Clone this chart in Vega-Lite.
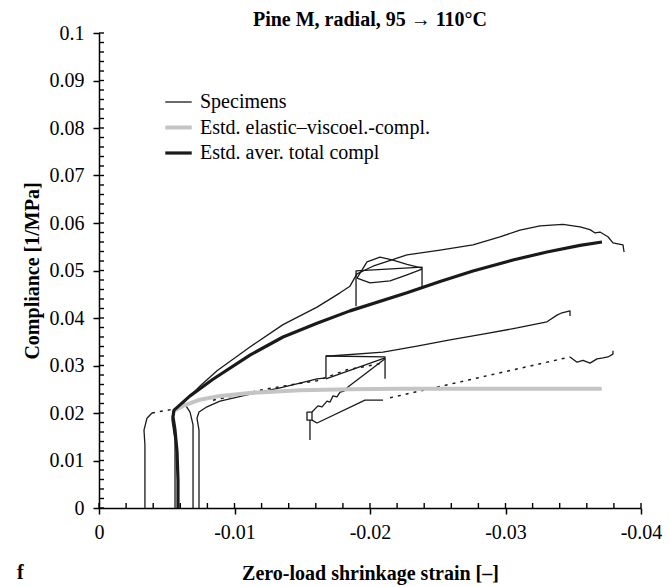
{
  "$schema": "https://vega.github.io/schema/vega-lite/v6.json",
  "width": 542,
  "height": 475,
  "autosize": {"type": "none"},
  "padding": {"left": 99, "top": 33, "right": 29, "bottom": 79},
  "background": "white",
  "title": {"text": "Pine M, radial, 95 → 110°C", "font": "Liberation Serif", "fontSize": 20, "fontWeight": "bold", "color": "black", "anchor": "middle", "frame": "group", "offset": -7},
  "config": {
    "font": "Liberation Serif",
    "view": {"stroke": null},
    "axis": {"grid": false}
  },
  "datasets": {
    "spec": [
      {"g":"S1","s":"Specimens","i":0,"x":-0.00561,"y":0},
      {"g":"S1","s":"Specimens","i":1,"x":-0.00561,"y":0.0143},
      {"g":"S1","s":"Specimens","i":2,"x":-0.00539,"y":0.0185},
      {"g":"S1","s":"Specimens","i":3,"x":-0.00546,"y":0.0204},
      {"g":"S1","s":"Specimens","i":4,"x":-0.0062,"y":0.0221},
      {"g":"S1","s":"Specimens","i":5,"x":-0.0075,"y":0.0258},
      {"g":"S1","s":"Specimens","i":6,"x":-0.00871,"y":0.0289},
      {"g":"S1","s":"Specimens","i":7,"x":-0.01114,"y":0.0339},
      {"g":"S1","s":"Specimens","i":8,"x":-0.01358,"y":0.0386},
      {"g":"S1","s":"Specimens","i":9,"x":-0.01609,"y":0.0423},
      {"g":"S1","s":"Specimens","i":10,"x":-0.01779,"y":0.0453},
      {"g":"S1","s":"Specimens","i":11,"x":-0.01852,"y":0.0467},
      {"g":"S1","s":"Specimens","i":12,"x":-0.01904,"y":0.0493},
      {"g":"S1","s":"Specimens","i":13,"x":-0.02022,"y":0.0509},
      {"g":"S1","s":"Specimens","i":14,"x":-0.02273,"y":0.0533},
      {"g":"S1","s":"Specimens","i":15,"x":-0.02517,"y":0.0543},
      {"g":"S1","s":"Specimens","i":16,"x":-0.0276,"y":0.0554},
      {"g":"S1","s":"Specimens","i":17,"x":-0.02959,"y":0.0571},
      {"g":"S1","s":"Specimens","i":18,"x":-0.03107,"y":0.0585},
      {"g":"S1","s":"Specimens","i":19,"x":-0.03255,"y":0.0594},
      {"g":"S1","s":"Specimens","i":20,"x":-0.03424,"y":0.0597},
      {"g":"S1","s":"Specimens","i":21,"x":-0.0355,"y":0.0592},
      {"g":"S1","s":"Specimens","i":22,"x":-0.03624,"y":0.0586},
      {"g":"S1","s":"Specimens","i":23,"x":-0.03661,"y":0.0579},
      {"g":"S1","s":"Specimens","i":24,"x":-0.03697,"y":0.0581},
      {"g":"S1","s":"Specimens","i":25,"x":-0.03756,"y":0.0571},
      {"g":"S1","s":"Specimens","i":26,"x":-0.03793,"y":0.0558},
      {"g":"S1","s":"Specimens","i":27,"x":-0.03867,"y":0.0554},
      {"g":"S1","s":"Specimens","i":28,"x":-0.03875,"y":0.0539},

      {"g":"S4","s":"Specimens","i":0,"x":-0.00694,"y":0},
      {"g":"S4","s":"Specimens","i":1,"x":-0.00694,"y":0.0175},
      {"g":"S4","s":"Specimens","i":2,"x":-0.00672,"y":0.0202},
      {"g":"S4","s":"Specimens","i":3,"x":-0.00642,"y":0.0215},
      {"g":"S4","s":"Specimens","i":4,"x":-0.0062,"y":0.0221},

      {"g":"S2","s":"Specimens","i":0,"x":-0.00738,"y":0},
      {"g":"S2","s":"Specimens","i":1,"x":-0.00738,"y":0.0164},
      {"g":"S2","s":"Specimens","i":2,"x":-0.00723,"y":0.0189},
      {"g":"S2","s":"Specimens","i":3,"x":-0.00738,"y":0.0202},
      {"g":"S2","s":"Specimens","i":4,"x":-0.00797,"y":0.0213},
      {"g":"S2","s":"Specimens","i":5,"x":-0.00893,"y":0.0225},
      {"g":"S2","s":"Specimens","i":6,"x":-0.01092,"y":0.0238},
      {"g":"S2","s":"Specimens","i":7,"x":-0.01336,"y":0.0253},
      {"g":"S2","s":"Specimens","i":8,"x":-0.01483,"y":0.0263},
      {"g":"S2","s":"Specimens","i":9,"x":-0.01609,"y":0.0272},
      {"g":"S2","s":"Specimens","i":10,"x":-0.01675,"y":0.0274},
      {"g":"S2","s":"Specimens","i":11,"x":-0.01675,"y":0.032},
      {"g":"S2","s":"Specimens","i":12,"x":-0.01705,"y":0.032},
      {"g":"S2","s":"Specimens","i":13,"x":-0.02096,"y":0.0328},
      {"g":"S2","s":"Specimens","i":14,"x":-0.02347,"y":0.0341},
      {"g":"S2","s":"Specimens","i":15,"x":-0.0259,"y":0.0354},
      {"g":"S2","s":"Specimens","i":16,"x":-0.02834,"y":0.0366},
      {"g":"S2","s":"Specimens","i":17,"x":-0.03085,"y":0.0379},
      {"g":"S2","s":"Specimens","i":18,"x":-0.03306,"y":0.0392},
      {"g":"S2","s":"Specimens","i":19,"x":-0.0338,"y":0.0406},
      {"g":"S2","s":"Specimens","i":20,"x":-0.03417,"y":0.0411},
      {"g":"S2","s":"Specimens","i":21,"x":-0.03476,"y":0.0415},
      {"g":"S2","s":"Specimens","i":22,"x":-0.03476,"y":0.0404},

      {"g":"B1","s":"Specimens","i":0,"x":-0.01897,"y":0.0425},
      {"g":"B1","s":"Specimens","i":1,"x":-0.01897,"y":0.0499},
      {"g":"B1","s":"Specimens","i":2,"x":-0.02384,"y":0.0507},
      {"g":"B1","s":"Specimens","i":3,"x":-0.02384,"y":0.0465},

      {"g":"DM","s":"Specimens","i":0,"x":-0.01904,"y":0.0484},
      {"g":"DM","s":"Specimens","i":1,"x":-0.01978,"y":0.0518},
      {"g":"DM","s":"Specimens","i":2,"x":-0.02074,"y":0.0528},
      {"g":"DM","s":"Specimens","i":3,"x":-0.0217,"y":0.0522},
      {"g":"DM","s":"Specimens","i":4,"x":-0.02273,"y":0.0513},
      {"g":"DM","s":"Specimens","i":5,"x":-0.02384,"y":0.0505},

      {"g":"AR","s":"Specimens","i":0,"x":-0.01904,"y":0.0484},
      {"g":"AR","s":"Specimens","i":1,"x":-0.02,"y":0.0474},
      {"g":"AR","s":"Specimens","i":2,"x":-0.02148,"y":0.0478},
      {"g":"AR","s":"Specimens","i":3,"x":-0.02273,"y":0.0491},
      {"g":"AR","s":"Specimens","i":4,"x":-0.02384,"y":0.0503},

      {"g":"B2","s":"Specimens","i":0,"x":-0.01675,"y":0.032},
      {"g":"B2","s":"Specimens","i":1,"x":-0.02111,"y":0.0318},
      {"g":"B2","s":"Specimens","i":2,"x":-0.02111,"y":0.0272},

      {"g":"DG","s":"Specimens","i":0,"x":-0.01675,"y":0.0272},
      {"g":"DG","s":"Specimens","i":1,"x":-0.02111,"y":0.0316},

      {"g":"A","s":"Specimens","i":0,"x":-0.00339,"y":0},
      {"g":"A","s":"Specimens","i":1,"x":-0.00339,"y":0.0133},
      {"g":"A","s":"Specimens","i":2,"x":-0.00332,"y":0.0164},
      {"g":"A","s":"Specimens","i":3,"x":-0.00354,"y":0.0189},
      {"g":"A","s":"Specimens","i":4,"x":-0.00391,"y":0.02},

      {"g":"S3V","s":"Specimens","i":0,"x":-0.01557,"y":0.0143},
      {"g":"S3V","s":"Specimens","i":1,"x":-0.01557,"y":0.0185},
      {"g":"S3V","s":"Specimens","i":2,"x":-0.01535,"y":0.0185},
      {"g":"S3V","s":"Specimens","i":3,"x":-0.01535,"y":0.0202},
      {"g":"S3V","s":"Specimens","i":4,"x":-0.01572,"y":0.0202},
      {"g":"S3V","s":"Specimens","i":5,"x":-0.01572,"y":0.0185},
      {"g":"S3V","s":"Specimens","i":6,"x":-0.01557,"y":0.0185},

      {"g":"S3Z","s":"Specimens","i":0,"x":-0.01572,"y":0.0202},
      {"g":"S3Z","s":"Specimens","i":1,"x":-0.01616,"y":0.0215},
      {"g":"S3Z","s":"Specimens","i":2,"x":-0.01646,"y":0.0213},
      {"g":"S3Z","s":"Specimens","i":3,"x":-0.01683,"y":0.0225},
      {"g":"S3Z","s":"Specimens","i":4,"x":-0.01705,"y":0.0223},
      {"g":"S3Z","s":"Specimens","i":5,"x":-0.01727,"y":0.0236},
      {"g":"S3Z","s":"Specimens","i":6,"x":-0.01756,"y":0.0234},
      {"g":"S3Z","s":"Specimens","i":7,"x":-0.01779,"y":0.0244},
      {"g":"S3Z","s":"Specimens","i":8,"x":-0.01808,"y":0.0246},
      {"g":"S3Z","s":"Specimens","i":9,"x":-0.0183,"y":0.0253},
      {"g":"S3Z","s":"Specimens","i":10,"x":-0.02111,"y":0.0314},

      {"g":"S3B","s":"Specimens","i":0,"x":-0.01572,"y":0.0185},
      {"g":"S3B","s":"Specimens","i":1,"x":-0.01609,"y":0.0179},
      {"g":"S3B","s":"Specimens","i":2,"x":-0.01963,"y":0.0227},
      {"g":"S3B","s":"Specimens","i":3,"x":-0.02096,"y":0.0227},

      {"g":"S3J","s":"Specimens","i":0,"x":-0.03476,"y":0.0318},
      {"g":"S3J","s":"Specimens","i":1,"x":-0.03528,"y":0.0307},
      {"g":"S3J","s":"Specimens","i":2,"x":-0.03572,"y":0.0311},
      {"g":"S3J","s":"Specimens","i":3,"x":-0.03624,"y":0.0305},
      {"g":"S3J","s":"Specimens","i":4,"x":-0.03675,"y":0.0314},
      {"g":"S3J","s":"Specimens","i":5,"x":-0.0372,"y":0.0316},
      {"g":"S3J","s":"Specimens","i":6,"x":-0.03756,"y":0.0318},
      {"g":"S3J","s":"Specimens","i":7,"x":-0.03793,"y":0.0324},
      {"g":"S3J","s":"Specimens","i":8,"x":-0.03793,"y":0.0331}
    ],
    "dotted": [
      {"g":"D1","i":0,"x":-0.00391,"y":0.02},
      {"g":"D1","i":1,"x":-0.00546,"y":0.0208},
      {"g":"D2","i":0,"x":-0.00841,"y":0.0227},
      {"g":"D2","i":1,"x":-0.0124,"y":0.0251},
      {"g":"D2","i":2,"x":-0.01609,"y":0.0268},
      {"g":"D2","i":3,"x":-0.0183,"y":0.0291},
      {"g":"D2","i":4,"x":-0.02096,"y":0.0305},
      {"g":"D3","i":0,"x":-0.02148,"y":0.0232},
      {"g":"D3","i":1,"x":-0.03476,"y":0.0318}
    ],
    "gray": [
      {"s":"Estd. elastic–viscoel.-compl.","i":0,"x":-0.0056,"y":0.0206},
      {"s":"Estd. elastic–viscoel.-compl.","i":1,"x":-0.0062,"y":0.0215},
      {"s":"Estd. elastic–viscoel.-compl.","i":2,"x":-0.00745,"y":0.0228},
      {"s":"Estd. elastic–viscoel.-compl.","i":3,"x":-0.00893,"y":0.0236},
      {"s":"Estd. elastic–viscoel.-compl.","i":4,"x":-0.01114,"y":0.0242},
      {"s":"Estd. elastic–viscoel.-compl.","i":5,"x":-0.01483,"y":0.0248},
      {"s":"Estd. elastic–viscoel.-compl.","i":6,"x":-0.01852,"y":0.025},
      {"s":"Estd. elastic–viscoel.-compl.","i":7,"x":-0.0222,"y":0.0251},
      {"s":"Estd. elastic–viscoel.-compl.","i":8,"x":-0.0371,"y":0.0251}
    ],
    "thick": [
      {"s":"Estd. aver. total compl","i":0,"x":-0.00583,"y":0},
      {"s":"Estd. aver. total compl","i":1,"x":-0.00583,"y":0.0059},
      {"s":"Estd. aver. total compl","i":2,"x":-0.00576,"y":0.0118},
      {"s":"Estd. aver. total compl","i":3,"x":-0.00561,"y":0.0164},
      {"s":"Estd. aver. total compl","i":4,"x":-0.00546,"y":0.0192},
      {"s":"Estd. aver. total compl","i":5,"x":-0.00554,"y":0.0206},
      {"s":"Estd. aver. total compl","i":6,"x":-0.00672,"y":0.0236},
      {"s":"Estd. aver. total compl","i":7,"x":-0.00841,"y":0.0271},
      {"s":"Estd. aver. total compl","i":8,"x":-0.01114,"y":0.0322},
      {"s":"Estd. aver. total compl","i":9,"x":-0.01358,"y":0.036},
      {"s":"Estd. aver. total compl","i":10,"x":-0.01609,"y":0.0389},
      {"s":"Estd. aver. total compl","i":11,"x":-0.01852,"y":0.0415},
      {"s":"Estd. aver. total compl","i":12,"x":-0.02273,"y":0.0453},
      {"s":"Estd. aver. total compl","i":13,"x":-0.02517,"y":0.0477},
      {"s":"Estd. aver. total compl","i":14,"x":-0.0276,"y":0.0499},
      {"s":"Estd. aver. total compl","i":15,"x":-0.03055,"y":0.0522},
      {"s":"Estd. aver. total compl","i":16,"x":-0.03306,"y":0.0539},
      {"s":"Estd. aver. total compl","i":17,"x":-0.0355,"y":0.0553},
      {"s":"Estd. aver. total compl","i":18,"x":-0.03712,"y":0.056}
    ],
    "xticks": [
      {"v":0},{"v":-0.002},{"v":-0.004},{"v":-0.006},{"v":-0.008},{"v":-0.01},{"v":-0.012},{"v":-0.014},{"v":-0.016},{"v":-0.018},
      {"v":-0.02},{"v":-0.022},{"v":-0.024},{"v":-0.026},{"v":-0.028},{"v":-0.03},{"v":-0.032},{"v":-0.034},{"v":-0.036},{"v":-0.038},{"v":-0.04}
    ],
    "yticks": [
      {"v":0},{"v":0.002},{"v":0.004},{"v":0.006},{"v":0.008},{"v":0.01},{"v":0.012},{"v":0.014},{"v":0.016},{"v":0.018},
      {"v":0.02},{"v":0.022},{"v":0.024},{"v":0.026},{"v":0.028},{"v":0.03},{"v":0.032},{"v":0.034},{"v":0.036},{"v":0.038},
      {"v":0.04},{"v":0.042},{"v":0.044},{"v":0.046},{"v":0.048},{"v":0.05},{"v":0.052},{"v":0.054},{"v":0.056},{"v":0.058},
      {"v":0.06},{"v":0.062},{"v":0.064},{"v":0.066},{"v":0.068},{"v":0.07},{"v":0.072},{"v":0.074},{"v":0.076},{"v":0.078},
      {"v":0.08},{"v":0.082},{"v":0.084},{"v":0.086},{"v":0.088},{"v":0.09},{"v":0.092},{"v":0.094},{"v":0.096},{"v":0.098},{"v":0.1}
    ]
  },
  "layer": [
    {
      "data": {"name": "spec"},
      "mark": {"type": "line", "strokeCap": "butt", "strokeJoin": "round"},
      "encoding": {
        "x": {"field": "x", "type": "quantitative",
          "scale": {"domain": [-0.04, 0], "reverse": true, "nice": false, "zero": false},
          "axis": {"values": [0, -0.01, -0.02, -0.03, -0.04], "labelExpr": "datum.value == 0 ? '0' : '-' + format(-datum.value, '~g')",
            "title": "Zero-load shrinkage strain [–]", "tickSize": 6, "labelPadding": 8, "titlePadding": 21,
            "labelFontSize": 20, "titleFontSize": 20, "titleFontWeight": "bold", "labelFont": "Liberation Serif", "titleFont": "Liberation Serif",
            "domainColor": "black", "domainWidth": 1.5, "tickColor": "black", "tickWidth": 1.5, "labelColor": "black", "titleColor": "black", "labelFlush": false}},
        "y": {"field": "y", "type": "quantitative",
          "scale": {"domain": [0, 0.1], "nice": false},
          "axis": {"values": [0, 0.01, 0.02, 0.03, 0.04, 0.05, 0.06, 0.07, 0.08, 0.09, 0.1], "format": "~g",
            "title": "Compliance [1/MPa]", "tickSize": 6, "labelPadding": 9, "titlePadding": 7,
            "labelFontSize": 20, "titleFontSize": 20, "titleFontWeight": "bold", "labelFont": "Liberation Serif", "titleFont": "Liberation Serif",
            "domainColor": "black", "domainWidth": 1.5, "tickColor": "black", "tickWidth": 1.5, "labelColor": "black", "titleColor": "black", "labelFlush": false}},
        "detail": {"field": "g"},
        "order": {"field": "i", "type": "quantitative"},
        "color": {"field": "s", "type": "nominal",
          "scale": {"domain": ["Specimens", "Estd. elastic–viscoel.-compl.", "Estd. aver. total compl"], "range": ["#1a1a1a", "#c4c4c4", "#1a1a1a"]},
          "legend": {"orient": "none", "legendX": 64, "legendY": 55, "title": null, "symbolSize": 700, "symbolType": "stroke", "symbolDash": [],
            "labelFontSize": 20, "labelFont": "Liberation Serif", "labelColor": "black", "labelLimit": 500, "rowPadding": 0, "labelOffset": 6}},
        "strokeWidth": {"field": "s", "type": "nominal",
          "scale": {"type": "ordinal", "domain": ["Specimens", "Estd. elastic–viscoel.-compl.", "Estd. aver. total compl"], "range": [1.3, 4, 3.2]},
          "legend": {"orient": "none", "legendX": 64, "legendY": 55, "title": null, "symbolSize": 700, "symbolType": "stroke", "symbolDash": [],
            "labelFontSize": 20, "labelFont": "Liberation Serif", "labelColor": "black", "labelLimit": 500, "rowPadding": 0, "labelOffset": 6}}
      }
    },
    {
      "data": {"name": "dotted"},
      "mark": {"type": "line", "color": "#1a1a1a", "strokeWidth": 1.5, "strokeDash": [3, 5]},
      "encoding": {
        "x": {"field": "x", "type": "quantitative", "scale": {"domain": [-0.04, 0], "reverse": true, "nice": false, "zero": false}},
        "y": {"field": "y", "type": "quantitative", "scale": {"domain": [0, 0.1], "nice": false}},
        "detail": {"field": "g"},
        "order": {"field": "i", "type": "quantitative"}
      }
    },
    {
      "data": {"name": "gray"},
      "mark": {"type": "line", "strokeCap": "butt"},
      "encoding": {
        "x": {"field": "x", "type": "quantitative", "scale": {"domain": [-0.04, 0], "reverse": true, "nice": false, "zero": false}},
        "y": {"field": "y", "type": "quantitative", "scale": {"domain": [0, 0.1], "nice": false}},
        "order": {"field": "i", "type": "quantitative"},
        "color": {"field": "s", "type": "nominal",
          "scale": {"domain": ["Specimens", "Estd. elastic–viscoel.-compl.", "Estd. aver. total compl"], "range": ["#1a1a1a", "#c4c4c4", "#1a1a1a"]}},
        "strokeWidth": {"field": "s", "type": "nominal",
          "scale": {"type": "ordinal", "domain": ["Specimens", "Estd. elastic–viscoel.-compl.", "Estd. aver. total compl"], "range": [1.3, 4, 3.2]}}
      }
    },
    {
      "data": {"name": "thick"},
      "mark": {"type": "line", "strokeCap": "butt", "strokeJoin": "round"},
      "encoding": {
        "x": {"field": "x", "type": "quantitative", "scale": {"domain": [-0.04, 0], "reverse": true, "nice": false, "zero": false}},
        "y": {"field": "y", "type": "quantitative", "scale": {"domain": [0, 0.1], "nice": false}},
        "order": {"field": "i", "type": "quantitative"},
        "color": {"field": "s", "type": "nominal",
          "scale": {"domain": ["Specimens", "Estd. elastic–viscoel.-compl.", "Estd. aver. total compl"], "range": ["#1a1a1a", "#c4c4c4", "#1a1a1a"]}},
        "strokeWidth": {"field": "s", "type": "nominal",
          "scale": {"type": "ordinal", "domain": ["Specimens", "Estd. elastic–viscoel.-compl.", "Estd. aver. total compl"], "range": [1.3, 4, 3.2]}}
      }
    },
    {
      "data": {"name": "xticks"},
      "mark": {"type": "tick", "orient": "vertical", "color": "black", "size": 5, "thickness": 1.4, "opacity": 1},
      "encoding": {
        "x": {"field": "v", "type": "quantitative", "scale": {"domain": [-0.04, 0], "reverse": true, "nice": false, "zero": false}},
        "y": {"datum": 0.00053, "type": "quantitative", "scale": {"domain": [0, 0.1], "nice": false}}
      }
    },
    {
      "data": {"name": "yticks"},
      "mark": {"type": "tick", "orient": "horizontal", "color": "black", "size": 5, "thickness": 1.4, "opacity": 1},
      "encoding": {
        "y": {"field": "v", "type": "quantitative", "scale": {"domain": [0, 0.1], "nice": false}},
        "x": {"datum": -0.000185, "type": "quantitative", "scale": {"domain": [-0.04, 0], "reverse": true, "nice": false, "zero": false}}
      }
    },
    {
      "data": {"values": [{"t": "f"}]},
      "mark": {"type": "text", "font": "Liberation Serif", "fontSize": 20, "fontWeight": "bold", "color": "black", "align": "center", "baseline": "middle"},
      "encoding": {
        "x": {"datum": 0.0058, "type": "quantitative", "scale": {"domain": [-0.04, 0], "reverse": true, "nice": false, "zero": false}},
        "y": {"datum": -0.0137, "type": "quantitative", "scale": {"domain": [0, 0.1], "nice": false}},
        "text": {"field": "t"}
      }
    }
  ]
}
